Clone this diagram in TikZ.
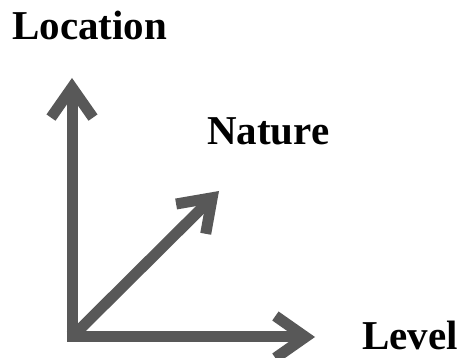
\documentclass[tikz,border=0pt]{standalone}
\usepackage{fontspec}
\setmainfont{Liberation Serif}
\usetikzlibrary{arrows.meta}
\definecolor{axisgray}{HTML}{585858}
\begin{document}
\begin{tikzpicture}[x=1pt,y=-1pt,
  axis/.style={draw=axisgray,line width=11pt,line cap=butt,line join=miter,
    -{Straight Barb[length=30pt,width=42pt,line join=miter]}},
  lbl/.style={font=\fontsize{41}{45}\selectfont\bfseries,inner sep=0pt,anchor=base west}]
\useasboundingbox (0,0) rectangle (461,358);
\coordinate (o) at (72,337);
\coordinate (tv) at (72,78);
\coordinate (th) at (315,337);
\coordinate (tn) at (219,191);
\draw[axis] ([yshift=5.5pt]o) -- (tv);
\draw[axis] ([xshift=-5.5pt]o) -- (th);
\draw[axis] (o) -- (tn);
\node[lbl] (loc) at (12,40) {Location};
\node[lbl] (nat) at (207,145) {Nature};
\node[lbl] (lev) at (362,350) {Level};
\end{tikzpicture}
\end{document}
